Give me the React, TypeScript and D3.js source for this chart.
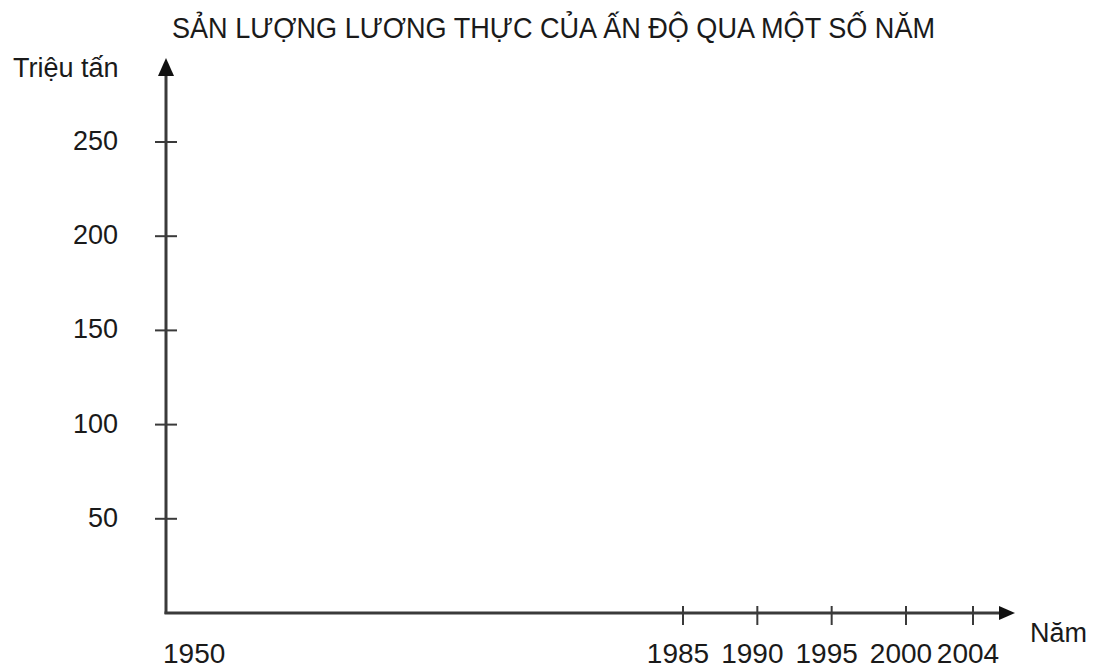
import React from 'react'
import * as d3 from 'd3'

const title = 'SẢN LƯỢNG LƯƠNG THỰC CỦA ẤN ĐỘ QUA MỘT SỐ NĂM'
const yLabel = 'Triệu tấn'
const xLabel = 'Năm'
const years = [1950, 1985, 1990, 1995, 2000, 2004]
const yTicks = [50, 100, 150, 200, 250]

const W = 1096, H = 669
const ink = '#3a3a3a'
const font = '"Liberation Sans", Arial, sans-serif'

export default function App() {
  // the axis is not to scale: long gap 1950 -> 1985, then (almost) even spacing
  const x = d3.scaleLinear().domain([1950, 1985, 2000, 2004]).range([166, 683, 906, 973])
  const y = d3.scaleLinear().domain([0, 250]).range([613, 142])

  const x0 = x(1950), y0 = y(0)
  const xEnd = 1015, yEnd = 58

  return (
    <svg width={W} height={H} style={{ position: 'absolute', left: 0, top: 0, background: '#fff' }}
      fontFamily={font}>
      <text x={172} y={38} fontSize={29} fill="#1a1a1a" textLength={763} lengthAdjust="spacingAndGlyphs">{title}</text>

      {/* y axis */}
      <line x1={x0} x2={x0} y1={y0 + 1} y2={yEnd + 14} stroke={ink} strokeWidth={3} />
      <path d={`M${x0},${yEnd} L${x0 - 8},${yEnd + 18} L${x0 + 8},${yEnd + 18} Z`} fill="#111" />
      <text x={13} y={77} fontSize={27} fill="#1a1a1a">{yLabel}</text>
      {yTicks.map(v => (
        <g key={v}>
          <line x1={x0 - 11} x2={x0 + 11} y1={y(v)} y2={y(v)} stroke={ink} strokeWidth={2} />
          <text x={118} y={y(v) + 8} fontSize={27} textAnchor="end" fill="#1a1a1a">{v}</text>
        </g>
      ))}

      {/* x axis */}
      <line x1={x0 - 1.5} x2={xEnd - 12} y1={y0} y2={y0} stroke={ink} strokeWidth={3} />
      <path d={`M${xEnd},${y0} L${xEnd - 16},${y0 - 7} L${xEnd - 16},${y0 + 7} Z`} fill="#111" />
      <text x={1030} y={642} fontSize={27} fill="#1a1a1a">{xLabel}</text>
      {years.map((yr, i) => (
        <g key={yr}>
          {i > 0 && <line x1={x(yr)} x2={x(yr)} y1={y0 - 7} y2={y0 + 12} stroke={ink} strokeWidth={2} />}
          <text x={i === 0 ? x(yr) - 3 : x(yr) - 5} y={663} fontSize={28} fill="#1a1a1a"
            textAnchor={i === 0 ? 'start' : 'middle'}>{yr}</text>
        </g>
      ))}
    </svg>
  )
}
